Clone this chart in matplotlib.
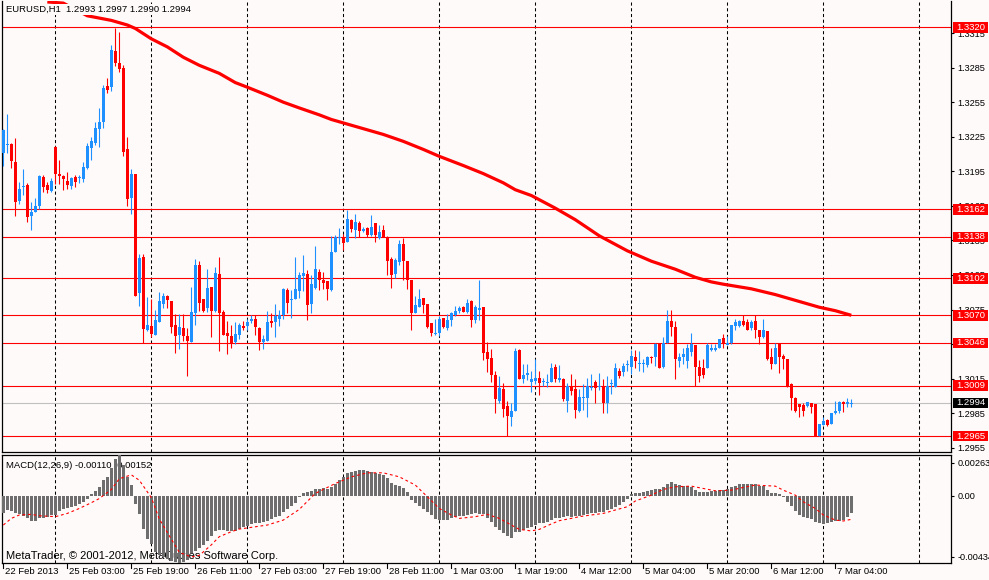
import numpy as np
import matplotlib
matplotlib.use("Agg")
import matplotlib.pyplot as plt
from matplotlib import transforms
from matplotlib.patches import Rectangle
from matplotlib.lines import Line2D

# ---- data: EURUSD H1, 22 Feb 2013 11:00 .. 7 Mar 2013 08:00 (213 bars) ----
opens = [
    1.3211, 1.3218, 1.3219, 1.3203, 1.3169, 1.3181, 1.3183, 1.3156, 1.3160, 1.3165,
    1.3190, 1.3183, 1.3178, 1.3216, 1.3193, 1.3191, 1.3187, 1.3182, 1.3190, 1.3189,
    1.3188, 1.3198, 1.3215, 1.3220, 1.3232, 1.3238, 1.3269, 1.3268, 1.3299, 1.3289,
    1.3285, 1.3214, 1.3172, 1.3193, 1.3089, 1.3121, 1.3057, 1.3061, 1.3053, 1.3064,
    1.3080, 1.3087, 1.3082, 1.3062, 1.3053, 1.3059, 1.3052, 1.3047, 1.3072, 1.3114,
    1.3084, 1.3076, 1.3095, 1.3074, 1.3106, 1.3073, 1.3055, 1.3052, 1.3047, 1.3053,
    1.3061, 1.3061, 1.3065, 1.3067, 1.3059, 1.3047, 1.3048, 1.3065, 1.3064, 1.3067,
    1.3070, 1.3092, 1.3083, 1.3084, 1.3091, 1.3104, 1.3106, 1.3080, 1.3094, 1.3108,
    1.3101, 1.3100, 1.3092, 1.3125, 1.3137, 1.3137, 1.3134, 1.3153, 1.3144, 1.3150,
    1.3143, 1.3146, 1.3140, 1.3150, 1.3137, 1.3144, 1.3138, 1.3119, 1.3106, 1.3116,
    1.3132, 1.3117, 1.3101, 1.3072, 1.3077, 1.3085, 1.3080, 1.3063, 1.3054, 1.3055,
    1.3068, 1.3059, 1.3066, 1.3070, 1.3074, 1.3077, 1.3073, 1.3082, 1.3066, 1.3075,
    1.3077, 1.3038, 1.3033, 1.3018, 1.2996, 1.3006, 1.2991, 1.2982, 1.2987, 1.3040,
    1.3015, 1.3018, 1.3012, 1.3013, 1.3016, 1.3012, 1.3011, 1.3012, 1.3025, 1.3014,
    1.3015, 1.2996, 1.3009, 1.3006, 1.2987, 1.2998, 1.2998, 1.3007, 1.3012, 1.3008,
    1.3009, 1.2994, 1.3010, 1.3008, 1.3022, 1.3021, 1.3027, 1.3025, 1.3034, 1.3028,
    1.3028, 1.3027, 1.3034, 1.3034, 1.3046, 1.3025, 1.3046, 1.3065, 1.3060, 1.3030,
    1.3034, 1.3030, 1.3038, 1.3044, 1.3025, 1.3024, 1.3024, 1.3040, 1.3040, 1.3042,
    1.3050, 1.3044, 1.3046, 1.3061, 1.3061, 1.3065, 1.3064, 1.3059, 1.3065, 1.3057,
    1.3051, 1.3056, 1.3034, 1.3028, 1.3045, 1.3035, 1.3032, 1.3010, 1.2998, 1.2993,
    1.2992, 1.2991, 1.2994, 1.2993, 1.2965, 1.2975, 1.2979, 1.2976, 1.2985, 1.2987,
    1.2995, 1.2993, 1.2993,
]
highs = [
    1.3232, 1.3245, 1.3220, 1.3224, 1.3186, 1.3197, 1.3185, 1.3168, 1.3172, 1.3192,
    1.3192, 1.3186, 1.3189, 1.3217, 1.3205, 1.3192, 1.3194, 1.3190, 1.3192, 1.3192,
    1.3203, 1.3220, 1.3225, 1.3238, 1.3250, 1.3270, 1.3276, 1.3305, 1.3319, 1.3316,
    1.3287, 1.3225, 1.3197, 1.3193, 1.3123, 1.3123, 1.3086, 1.3084, 1.3075, 1.3090,
    1.3089, 1.3088, 1.3082, 1.3071, 1.3071, 1.3071, 1.3059, 1.3095, 1.3119, 1.3117,
    1.3084, 1.3110, 1.3095, 1.3112, 1.3121, 1.3075, 1.3065, 1.3062, 1.3064, 1.3063,
    1.3065, 1.3067, 1.3070, 1.3070, 1.3060, 1.3053, 1.3074, 1.3072, 1.3080, 1.3075,
    1.3094, 1.3094, 1.3092, 1.3121, 1.3108, 1.3122, 1.3109, 1.3105, 1.3130, 1.3110,
    1.3108, 1.3100, 1.3139, 1.3140, 1.3146, 1.3141, 1.3161, 1.3154, 1.3158, 1.3152,
    1.3147, 1.3147, 1.3157, 1.3150, 1.3148, 1.3148, 1.3139, 1.3121, 1.3120, 1.3135,
    1.3137, 1.3117, 1.3101, 1.3087, 1.3093, 1.3085, 1.3080, 1.3063, 1.3067, 1.3069,
    1.3068, 1.3071, 1.3073, 1.3078, 1.3078, 1.3078, 1.3084, 1.3083, 1.3079, 1.3101,
    1.3077, 1.3047, 1.3041, 1.3022, 1.3017, 1.3011, 1.2996, 1.2994, 1.3042, 1.3041,
    1.3028, 1.3028, 1.3022, 1.3032, 1.3022, 1.3016, 1.3019, 1.3029, 1.3028, 1.3027,
    1.3016, 1.3011, 1.3019, 1.3015, 1.3006, 1.3010, 1.3016, 1.3019, 1.3014, 1.3020,
    1.3015, 1.3017, 1.3015, 1.3029, 1.3024, 1.3029, 1.3031, 1.3040, 1.3040, 1.3039,
    1.3032, 1.3035, 1.3035, 1.3046, 1.3046, 1.3051, 1.3075, 1.3075, 1.3065, 1.3037,
    1.3042, 1.3045, 1.3055, 1.3044, 1.3031, 1.3032, 1.3046, 1.3045, 1.3045, 1.3049,
    1.3054, 1.3052, 1.3062, 1.3067, 1.3066, 1.3070, 1.3067, 1.3066, 1.3070, 1.3057,
    1.3067, 1.3056, 1.3042, 1.3046, 1.3046, 1.3036, 1.3032, 1.3011, 1.2999, 1.2993,
    1.2994, 1.2995, 1.2994, 1.2993, 1.2976, 1.2982, 1.2980, 1.2985, 1.2996, 1.2996,
    1.2996, 1.2998, 1.2997,
]
lows = [
    1.3200, 1.3211, 1.3198, 1.3156, 1.3167, 1.3174, 1.3151, 1.3144, 1.3160, 1.3162,
    1.3177, 1.3176, 1.3177, 1.3184, 1.3184, 1.3179, 1.3180, 1.3180, 1.3181, 1.3185,
    1.3186, 1.3197, 1.3205, 1.3218, 1.3216, 1.3233, 1.3263, 1.3265, 1.3286, 1.3281,
    1.3208, 1.3165, 1.3158, 1.3087, 1.3078, 1.3046, 1.3056, 1.3051, 1.3053, 1.3064,
    1.3076, 1.3076, 1.3055, 1.3037, 1.3041, 1.3048, 1.3017, 1.3047, 1.3062, 1.3074,
    1.3073, 1.3073, 1.3051, 1.3073, 1.3039, 1.3053, 1.3036, 1.3042, 1.3045, 1.3049,
    1.3057, 1.3057, 1.3063, 1.3053, 1.3040, 1.3041, 1.3048, 1.3060, 1.3051, 1.3061,
    1.3067, 1.3072, 1.3068, 1.3084, 1.3085, 1.3091, 1.3066, 1.3072, 1.3093, 1.3092,
    1.3093, 1.3083, 1.3091, 1.3125, 1.3132, 1.3127, 1.3134, 1.3142, 1.3137, 1.3138,
    1.3142, 1.3138, 1.3139, 1.3134, 1.3136, 1.3138, 1.3105, 1.3094, 1.3102, 1.3114,
    1.3101, 1.3093, 1.3057, 1.3072, 1.3077, 1.3072, 1.3059, 1.3052, 1.3053, 1.3052,
    1.3059, 1.3057, 1.3061, 1.3069, 1.3072, 1.3073, 1.3072, 1.3060, 1.3063, 1.3066,
    1.3031, 1.3021, 1.3012, 1.2985, 1.2994, 1.2982, 1.2965, 1.2974, 1.2987, 1.3015,
    1.3011, 1.3014, 1.3003, 1.3010, 1.3001, 1.3009, 1.3008, 1.3012, 1.3012, 1.3012,
    1.2996, 1.2986, 1.3001, 1.2981, 1.2986, 1.2988, 1.2982, 1.3005, 1.2994, 1.3005,
    1.2985, 1.2985, 1.3002, 1.3008, 1.3016, 1.3017, 1.3022, 1.3019, 1.3024, 1.3022,
    1.3021, 1.3025, 1.3029, 1.3026, 1.3024, 1.3024, 1.3046, 1.3052, 1.3015, 1.3025,
    1.3028, 1.3024, 1.3035, 1.3009, 1.3012, 1.3016, 1.3024, 1.3039, 1.3039, 1.3042,
    1.3042, 1.3044, 1.3045, 1.3057, 1.3060, 1.3061, 1.3057, 1.3057, 1.3050, 1.3045,
    1.3050, 1.3031, 1.3023, 1.3028, 1.3020, 1.3023, 1.3008, 1.2988, 1.2986, 1.2982,
    1.2983, 1.2990, 1.2985, 1.2965, 1.2965, 1.2975, 1.2974, 1.2976, 1.2984, 1.2985,
    1.2986, 1.2990, 1.2990,
]
closes = [
    1.3231, 1.3219, 1.3204, 1.3168, 1.3180, 1.3182, 1.3155, 1.3160, 1.3165, 1.3191,
    1.3181, 1.3179, 1.3187, 1.3193, 1.3191, 1.3188, 1.3183, 1.3189, 1.3186, 1.3190,
    1.3199, 1.3217, 1.3221, 1.3233, 1.3238, 1.3267, 1.3266, 1.3300, 1.3289, 1.3284,
    1.3212, 1.3171, 1.3193, 1.3087, 1.3120, 1.3058, 1.3062, 1.3054, 1.3066, 1.3082,
    1.3087, 1.3083, 1.3060, 1.3052, 1.3060, 1.3052, 1.3048, 1.3073, 1.3114, 1.3081,
    1.3074, 1.3094, 1.3074, 1.3107, 1.3072, 1.3053, 1.3052, 1.3046, 1.3054, 1.3062,
    1.3059, 1.3064, 1.3067, 1.3060, 1.3047, 1.3049, 1.3064, 1.3063, 1.3069, 1.3070,
    1.3093, 1.3081, 1.3084, 1.3093, 1.3105, 1.3107, 1.3079, 1.3097, 1.3110, 1.3101,
    1.3098, 1.3093, 1.3125, 1.3138, 1.3138, 1.3133, 1.3154, 1.3145, 1.3151, 1.3143,
    1.3145, 1.3140, 1.3147, 1.3140, 1.3142, 1.3138, 1.3117, 1.3105, 1.3118, 1.3132,
    1.3117, 1.3101, 1.3072, 1.3079, 1.3084, 1.3079, 1.3060, 1.3055, 1.3055, 1.3067,
    1.3060, 1.3066, 1.3072, 1.3074, 1.3076, 1.3073, 1.3081, 1.3066, 1.3077, 1.3076,
    1.3037, 1.3032, 1.3018, 1.2997, 1.3007, 1.2989, 1.2983, 1.2987, 1.3039, 1.3015,
    1.3018, 1.3020, 1.3015, 1.3016, 1.3011, 1.3013, 1.3012, 1.3024, 1.3015, 1.3016,
    1.2997, 1.3009, 1.3004, 1.2988, 1.2999, 1.2999, 1.3009, 1.3008, 1.3007, 1.3009,
    1.2994, 1.3009, 1.3011, 1.3024, 1.3017, 1.3026, 1.3028, 1.3035, 1.3030, 1.3029,
    1.3029, 1.3034, 1.3033, 1.3045, 1.3024, 1.3046, 1.3065, 1.3060, 1.3032, 1.3034,
    1.3036, 1.3042, 1.3045, 1.3025, 1.3017, 1.3018, 1.3044, 1.3042, 1.3042, 1.3049,
    1.3046, 1.3046, 1.3062, 1.3064, 1.3065, 1.3062, 1.3057, 1.3064, 1.3057, 1.3051,
    1.3057, 1.3032, 1.3028, 1.3042, 1.3034, 1.3032, 1.3008, 1.2998, 1.2987, 1.2990,
    1.2987, 1.2995, 1.2990, 1.2965, 1.2976, 1.2978, 1.2975, 1.2985, 1.2987, 1.2995,
    1.2993, 1.2995, 1.2994,
]

# moving average (red thick line), read at sample bars
ma_bars = [11, 15, 21, 27, 31, 33, 37, 41, 45, 49, 54, 58, 61, 66, 70, 74, 79, 82,
           85, 90, 95, 100, 105, 109, 115, 120, 125, 128, 132, 138, 143, 149, 156,
           162, 168, 173, 177, 180, 187, 193, 198, 204, 208, 212]
ma_vals = [1.3342, 1.3341, 1.3330, 1.3326, 1.3322, 1.3319, 1.3310, 1.3303, 1.3294,
           1.3287, 1.3280, 1.3272, 1.3268, 1.3261, 1.3255, 1.3250, 1.3244, 1.3240,
           1.3237, 1.3232, 1.3227, 1.3221, 1.3214, 1.3208, 1.3200, 1.3193, 1.3185,
           1.3179, 1.3174, 1.3163, 1.3153, 1.3139, 1.3126, 1.3117, 1.3110, 1.3103,
           1.3099, 1.3097, 1.3093, 1.3088, 1.3083, 1.3077, 1.3074, 1.3070]

# horizontal levels and current bid
levels = [1.3320, 1.3162, 1.3138, 1.3102, 1.3070, 1.3046, 1.3009, 1.2965]
bid = 1.2994
price_ticks = [1.2955, 1.2985, 1.3015, 1.3045, 1.3075, 1.3105, 1.3135, 1.3165,
               1.3195, 1.3225, 1.3255, 1.3285, 1.3315]

# MACD(12,26,9) main histogram, in units of 1e-5
macd_main = [
    -109, -92, -97, -114, -120, -129, -146, -161, -161, -146,
    -142, -135, -124, -124, -97, -88, -82, -75, -66, -56,
    -39, -21, 9, 28, 58, 99, 120, 178, 234, 263,
    196, 120, 67, -51, -116, -212, -281, -309, -362, -384,
    -395, -405, -418, -428, -434, -427, -412, -372, -355, -340,
    -320, -290, -260, -225, -220, -221, -225, -227, -225, -215,
    -204, -195, -182, -178, -174, -167, -161, -150, -139, -129,
    -103, -88, -66, -49, -6, 19, 21, 28, 41, 45,
    47, 41, 54, 79, 101, 122, 144, 154, 161, 165,
    165, 161, 154, 148, 139, 133, 112, 84, 69, 62,
    47, 26, -28, -49, -66, -88, -103, -124, -152, -157,
    -157, -157, -146, -135, -131, -129, -124, -118, -114, -118,
    -118, -142, -167, -199, -221, -242, -260, -275, -236, -232,
    -221, -210, -199, -189, -178, -174, -167, -157, -146, -142,
    -135, -131, -135, -131, -129, -124, -118, -114, -109, -105,
    -103, -92, -88, -75, -60, -39, -24, 9, 15, 19,
    21, 28, 36, 41, 43, 54, 73, 86, 79, 69,
    64, 62, 58, 36, 21, 21, 26, 30, 30, 36,
    36, 41, 54, 62, 73, 75, 75, 75, 73, 62,
    62, 36, 15, 15, 11, -6, -39, -66, -99, -124,
    -135, -142, -152, -167, -178, -182, -178, -167, -163, -163,
    -157, -135, -110,
]
# signal line (red dotted), read at sample bars, units of 1e-5
sig_bars = [0, 2, 4, 7, 9, 13, 16, 19, 22, 24, 27, 29, 32, 34, 37, 39, 42, 44, 47,
            49, 52, 54, 57, 59, 62, 66, 70, 74, 78, 83, 87, 91, 95, 99, 103, 106,
            109, 112, 114, 118, 121, 124, 127, 129, 132, 134, 137, 139, 142, 144,
            147, 150, 153, 156, 158, 162, 165, 168, 172, 175, 178, 182, 185, 188,
            193, 195, 198, 200, 203, 205, 208, 210, 212]
sig_vals = [-189, -146, -124, -120, -129, -135, -114, -82, -45, -18, 40, 110, 135,
            100, -12, -150, -280, -365, -395, -385, -317, -264, -232, -215, -204,
            -189, -157, -88, 15, 79, 122, 148, 148, 122, 69, -6, -82, -124, -146,
            -135, -120, -146, -189, -217, -227, -217, -182, -161, -146, -135, -124,
            -114, -92, -71, -34, 4, 41, 58, 62, 47, 32, 36, 54, 69, 62, 36, 4, -39,
            -82, -124, -157, -163, -152]
macd_top = 0.00263
macd_bottom = -0.00434

# time axis labels every 16 bars, day separators every 24 bars
time_labels = ["22 Feb 2013", "25 Feb 03:00", "25 Feb 19:00", "26 Feb 11:00",
               "27 Feb 03:00", "27 Feb 19:00", "28 Feb 11:00", "1 Mar 03:00",
               "1 Mar 19:00", "4 Mar 12:00", "5 Mar 04:00", "5 Mar 20:00",
               "6 Mar 12:00", "7 Mar 04:00"]
label_step = 16
day_first = 13
day_step = 24

title = "EURUSD,H1  1.2993 1.2997 1.2990 1.2994"
macd_title = "MACD(12,26,9) -0.00110 -0.00152"
credit = "MetaTrader, \u00a9 2001-2012, MetaQuotes Software Corp."

assert len(opens) == len(highs) == len(lows) == len(closes) == len(macd_main) == 213

# ---- figure ----
BG = "#FFFAFA"
BULL = "#1E90FF"
BEAR = "#FF0000"
plt.rcParams["font.family"] = ["Liberation Sans", "DejaVu Sans"]
plt.rcParams["font.size"] = 6.6

W, H = 989, 580
fig = plt.figure(figsize=(W / 100, H / 100), dpi=100, facecolor=BG)


def px_rect(x0, y0, x1, y1):
    return [x0 / W, 1 - y1 / H, (x1 - x0) / W, (y1 - y0) / H]


ax = fig.add_axes(px_rect(2, 1, 951, 452), facecolor=BG)
ax2 = fig.add_axes(px_rect(2, 455, 951, 563), facecolor=BG)

n = len(closes)
x = np.arange(n)
xlim = (-0.33, 236.93)
for a in (ax, ax2):
    a.set_xlim(*xlim)
    a.set_xticks([])
    for s in a.spines.values():
        s.set_color("black")
        s.set_linewidth(0.9)
ax.spines["top"].set_visible(False)

ax.set_ylim(1.295134, 1.334283)
ax2.set_ylim(macd_bottom, macd_top)

# day separators
for d in range(day_first, int(xlim[1]) + 1, day_step):
    for a in (ax, ax2):
        a.axvline(d, color="black", lw=0.75, ls=(0, (3, 2.5)), zorder=1)

# levels
for lv in levels:
    ax.axhline(lv, color="#FF0000", lw=0.8, zorder=2)
ax.axhline(bid, color="#C0C0C0", lw=0.8, zorder=1.5)

# candles
o = np.array(opens)
c = np.array(closes)
hi = np.array(highs)
lo = np.array(lows)
up = c >= o
cols = np.where(up, BULL, BEAR)
ax.vlines(x, lo, hi, colors=cols, lw=0.8, zorder=3)
body = np.maximum(np.abs(c - o), 0.00009)
ax.bar(x, body, bottom=np.minimum(o, c), width=0.72, color=cols, lw=0, zorder=4)

# moving average
ax.plot(ma_bars, ma_vals, color="#FF0000", lw=2.3, solid_capstyle="butt",
        solid_joinstyle="round", zorder=5)

# right price axis
ax.yaxis.tick_right()
ax.set_yticks(price_ticks)
ax.set_yticklabels(["%.4f" % t for t in price_ticks])
ax.tick_params(axis="y", length=2.5, width=0.8, pad=2, colors="black")

tr = transforms.blended_transform_factory(fig.transFigure, ax.transData)
hh = 5.2 / (451 / (1.334283 - 1.295134))
for lv in levels + [bid]:
    fc = "black" if lv == bid else "#FF0000"
    ax.add_patch(Rectangle((953 / W, lv - hh), 35 / W, 2 * hh, transform=tr,
                           facecolor=fc, edgecolor="none", clip_on=False, zorder=20))
    ax.text(956.5 / W, lv, "%.4f" % lv, transform=tr, color="white", va="center",
            ha="left", fontsize=6.8, zorder=21, clip_on=False)

# title with background over the MA
ax.text(6.5 / W, 1 - 9.5 / H, title, transform=fig.transFigure, va="center", ha="left",
        fontsize=6.8, zorder=30,
        bbox=dict(facecolor=BG, edgecolor="none", pad=0.6))

# MACD panel
ax2.bar(x, np.array(macd_main) * 1e-5, width=0.66, color="#6E6E6E", lw=0, zorder=3)
ax2.plot(sig_bars, np.array(sig_vals) * 1e-5, color="#FF0000", lw=0.8,
         ls=(0, (2.5, 2.5)), zorder=4)
ax2.text(6.5 / W, 1 - 465.5 / H, macd_title, transform=fig.transFigure, va="center",
         ha="left", fontsize=6.8, zorder=1)
ax2.text(5.5 / W, 1 - 556 / H, credit, transform=fig.transFigure, va="center",
         ha="left", fontsize=8, zorder=1)

per_px = (macd_top - macd_bottom) / 108.0
ax2.yaxis.tick_right()
ax2.set_yticks([macd_top - 7.5 * per_px, 0.0, macd_bottom + 6.5 * per_px])
ax2.set_yticklabels(["%.5f" % macd_top, "0.00", "%.5f" % macd_bottom])
ax2.tick_params(axis="y", length=2.5, width=0.8, pad=2, colors="black")

# time labels
trx = transforms.blended_transform_factory(ax2.transData, fig.transFigure)
for i, lab in enumerate(time_labels):
    b = i * label_step
    fig.add_artist(Line2D([b, b], [1 - 563.5 / H, 1 - 567.5 / H], transform=trx,
                          color="black", lw=0.8))
    ax2.text(b + 0.35, 1 - 571 / H, lab, transform=trx, va="center", ha="left",
             fontsize=6.8, clip_on=False)

fig.savefig("out.png", dpi=100, facecolor=BG)
